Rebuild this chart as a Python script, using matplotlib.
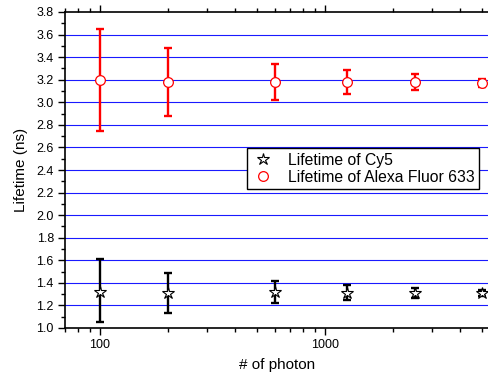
import matplotlib
matplotlib.use("Agg")
import matplotlib.pyplot as plt
import numpy as np
from matplotlib.ticker import LogLocator, MultipleLocator, FixedLocator, NullFormatter

plt.rcParams["font.family"] = ["Liberation Sans", "DejaVu Sans"]

# photon counts per lifetime estimate
photons = [100, 200, 600, 1250, 2500, 5000]

# Cy5 lifetime (ns) with lower / upper error
cy5_tau = [1.32, 1.31, 1.32, 1.31, 1.31, 1.31]
cy5_lo = [0.27, 0.18, 0.10, 0.06, 0.045, 0.03]
cy5_hi = [0.29, 0.18, 0.10, 0.07, 0.045, 0.03]

# Alexa Fluor 633 lifetime (ns) with lower / upper error
alexa_tau = [3.20, 3.18, 3.18, 3.18, 3.18, 3.17]
alexa_lo = [0.45, 0.30, 0.16, 0.11, 0.075, 0.035]
alexa_hi = [0.45, 0.30, 0.16, 0.11, 0.075, 0.035]

yticks = np.round(np.arange(1.0, 3.81, 0.2), 1)

fig = plt.figure(figsize=(4.89, 3.73), dpi=100)
ax = fig.add_axes([65 / 489, 45 / 373, 425 / 489, 316 / 373])

for y in yticks[1:-1]:
    ax.axhline(y, color="#1a1aff", linewidth=0.8, zorder=1)

ax.errorbar(photons, alexa_tau, yerr=[alexa_lo, alexa_hi], fmt="none",
            ecolor="red", elinewidth=1.7, capsize=3.2, capthick=1.7, zorder=2)
ax.errorbar(photons, cy5_tau, yerr=[cy5_lo, cy5_hi], fmt="none",
            ecolor="black", elinewidth=1.7, capsize=3.2, capthick=1.7, zorder=2)

ax.plot(photons, cy5_tau, linestyle="none", marker="*", markersize=9,
        markerfacecolor="white", markeredgecolor="black", markeredgewidth=0.8,
        label="Lifetime of Cy5", zorder=3)
ax.plot(photons, alexa_tau, linestyle="none", marker="o", markersize=7,
        markerfacecolor="white", markeredgecolor="red", markeredgewidth=0.9,
        label="Lifetime of Alexa Fluor 633", zorder=3)

ax.set_xscale("log")
ax.set_xlim(69.9, 5412)
ax.set_ylim(1.0, 3.8)

ax.xaxis.set_major_locator(FixedLocator([100, 1000]))
ax.xaxis.set_major_formatter(plt.FuncFormatter(lambda v, p: f"{int(v)}"))
ax.xaxis.set_minor_locator(LogLocator(base=10, subs=np.arange(2, 10)))
ax.xaxis.set_minor_formatter(NullFormatter())
ax.set_yticks(yticks)
ax.yaxis.set_minor_locator(MultipleLocator(0.1))

ax.tick_params(axis="both", which="major", direction="out", length=5, width=1,
               labelsize=9, pad=3)
ax.tick_params(axis="both", which="minor", direction="out", length=3, width=1)
ax.tick_params(axis="x", which="both", top=True)

for side in ["left", "bottom", "top", "right"]:
    ax.spines[side].set_linewidth(1.2)

ax.set_xlabel("# of photon", fontsize=11, labelpad=5)
ax.set_ylabel("Lifetime (ns)", fontsize=11, labelpad=6)

leg = ax.legend(loc="upper left", bbox_to_anchor=(0.428, 0.5696), borderaxespad=0,
                fontsize=11.3, frameon=True, fancybox=False, framealpha=1,
                edgecolor="black", labelspacing=0.12, handletextpad=0.8,
                borderpad=0.3, handlelength=1.5)
leg.get_frame().set_linewidth(1.0)

fig.savefig("out.png", dpi=100)
